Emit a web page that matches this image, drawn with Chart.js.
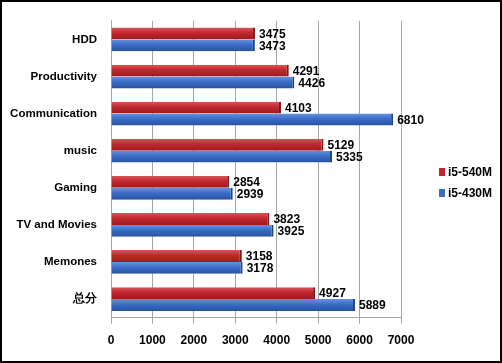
<!DOCTYPE html>
<html>
<head>
<meta charset="utf-8">
<script src="https://cdn.jsdelivr.net/npm/chart.js@4"></script>
<style>
    html, body { margin: 0; padding: 0; background: #fff; }
    #wrap { width: 502px; height: 363px; box-sizing: border-box; border: 2px solid #000; position: relative; }
    canvas { position: absolute; left: -2px; top: -2px; }
</style>
</head>
<body>
<div id="wrap"><canvas id="chart" width="502" height="363"></canvas></div>
<script>
const categories = ["HDD", "Productivity", "Communication", "music", "Gaming", "TV and Movies", "Memones", "总分"];
const i5_540M = [3475, 4291, 4103, 5129, 2854, 3823, 3158, 4927];
const i5_430M = [3473, 4426, 6810, 5335, 2939, 3925, 3178, 5889];
const xTicks = [0, 1000, 2000, 3000, 4000, 5000, 6000, 7000];

const FONT = "'Liberation Sans', Arial, sans-serif";

// vertical shading so the bars look a little like the 3D originals
function barShade(base, light, dark) {
    return (context) => {
        const bar = context.element;
        if (!bar || !isFinite(bar.y) || !isFinite(bar.height)) return base;
        const top = bar.y - bar.height / 2;
        const g = context.chart.ctx.createLinearGradient(0, top, 0, top + bar.height);
        g.addColorStop(0, light);
        g.addColorStop(0.45, base);
        g.addColorStop(1, dark);
        return g;
    };
}

const valueLabels = {
    id: "valueLabels",
    afterDatasetsDraw(chart) {
        const ctx = chart.ctx;
        ctx.save();
        ctx.font = `bold 12px ${FONT}`;
        ctx.fillStyle = "#000";
        ctx.textBaseline = "middle";
        ctx.textAlign = "left";
        chart.data.datasets.forEach((ds, i) => {
            chart.getDatasetMeta(i).data.forEach((bar, j) => {
                ctx.fillText(String(ds.data[j]), bar.x + 4, bar.y + 1);
            });
        });
        ctx.restore();
    }
};

const sideLegend = {
    id: "sideLegend",
    afterDraw(chart) {
        const ctx = chart.ctx;
        ctx.save();
        ctx.font = `bold 12px ${FONT}`;
        ctx.textBaseline = "middle";
        chart.data.datasets.forEach((ds, i) => {
            const y = 172 + i * 21;
            ctx.fillStyle = ds.legendColor;
            ctx.fillRect(439, y - 4, 6, 8);
            ctx.fillStyle = "#000";
            ctx.fillText(ds.label, 448, y + 1);
        });
        ctx.restore();
    }
};

const chart = new Chart(document.getElementById("chart"), {
    type: "bar",
    data: {
        labels: categories,
        datasets: [
            {
                label: "i5-540M",
                data: i5_540M,
                legendColor: "#c1272d",
                backgroundColor: barShade("#c1272d", "#d9555a", "#9b1c21"),
                borderColor: "#7e161a",
                borderWidth: { right: 2 },
                categoryPercentage: 0.64,
                barPercentage: 1
            },
            {
                label: "i5-430M",
                data: i5_430M,
                legendColor: "#3a6cc8",
                backgroundColor: barShade("#3a6cc8", "#6792de", "#28529f"),
                borderColor: "#1f4488",
                borderWidth: { right: 2 },
                categoryPercentage: 0.64,
                barPercentage: 1
            }
        ]
    },
    options: {
        indexAxis: "y",
        responsive: false,
        animation: false,
        layout: { padding: { left: 10, right: 101, top: 17, bottom: 5 } },
        plugins: {
            legend: { display: false },
            tooltip: { enabled: false }
        },
        scales: {
            x: {
                min: 0,
                max: 7000,
                afterBuildTicks(axis) { axis.ticks = xTicks.map(v => ({ value: v })); },
                grid: { color: "#a6a6a6", drawTicks: true, tickLength: 6 },
                border: { color: "#a6a6a6" },
                ticks: {
                    color: "#000",
                    font: { family: FONT, size: 12, weight: "bold" },
                    padding: 10,
                    callback: (value) => String(value)
                }
            },
            y: {
                afterFit(axis) { axis.width = 101; },
                grid: { display: false, drawTicks: false },
                border: { color: "#a6a6a6" },
                ticks: { color: "#000", font: { family: FONT, size: 11.5, weight: "bold" }, padding: 14 }
            }
        }
    },
    plugins: [valueLabels, sideLegend]
});
// redraw once so the gradients can use the laid-out bar positions
chart.update("none");
</script>
</body>
</html>
